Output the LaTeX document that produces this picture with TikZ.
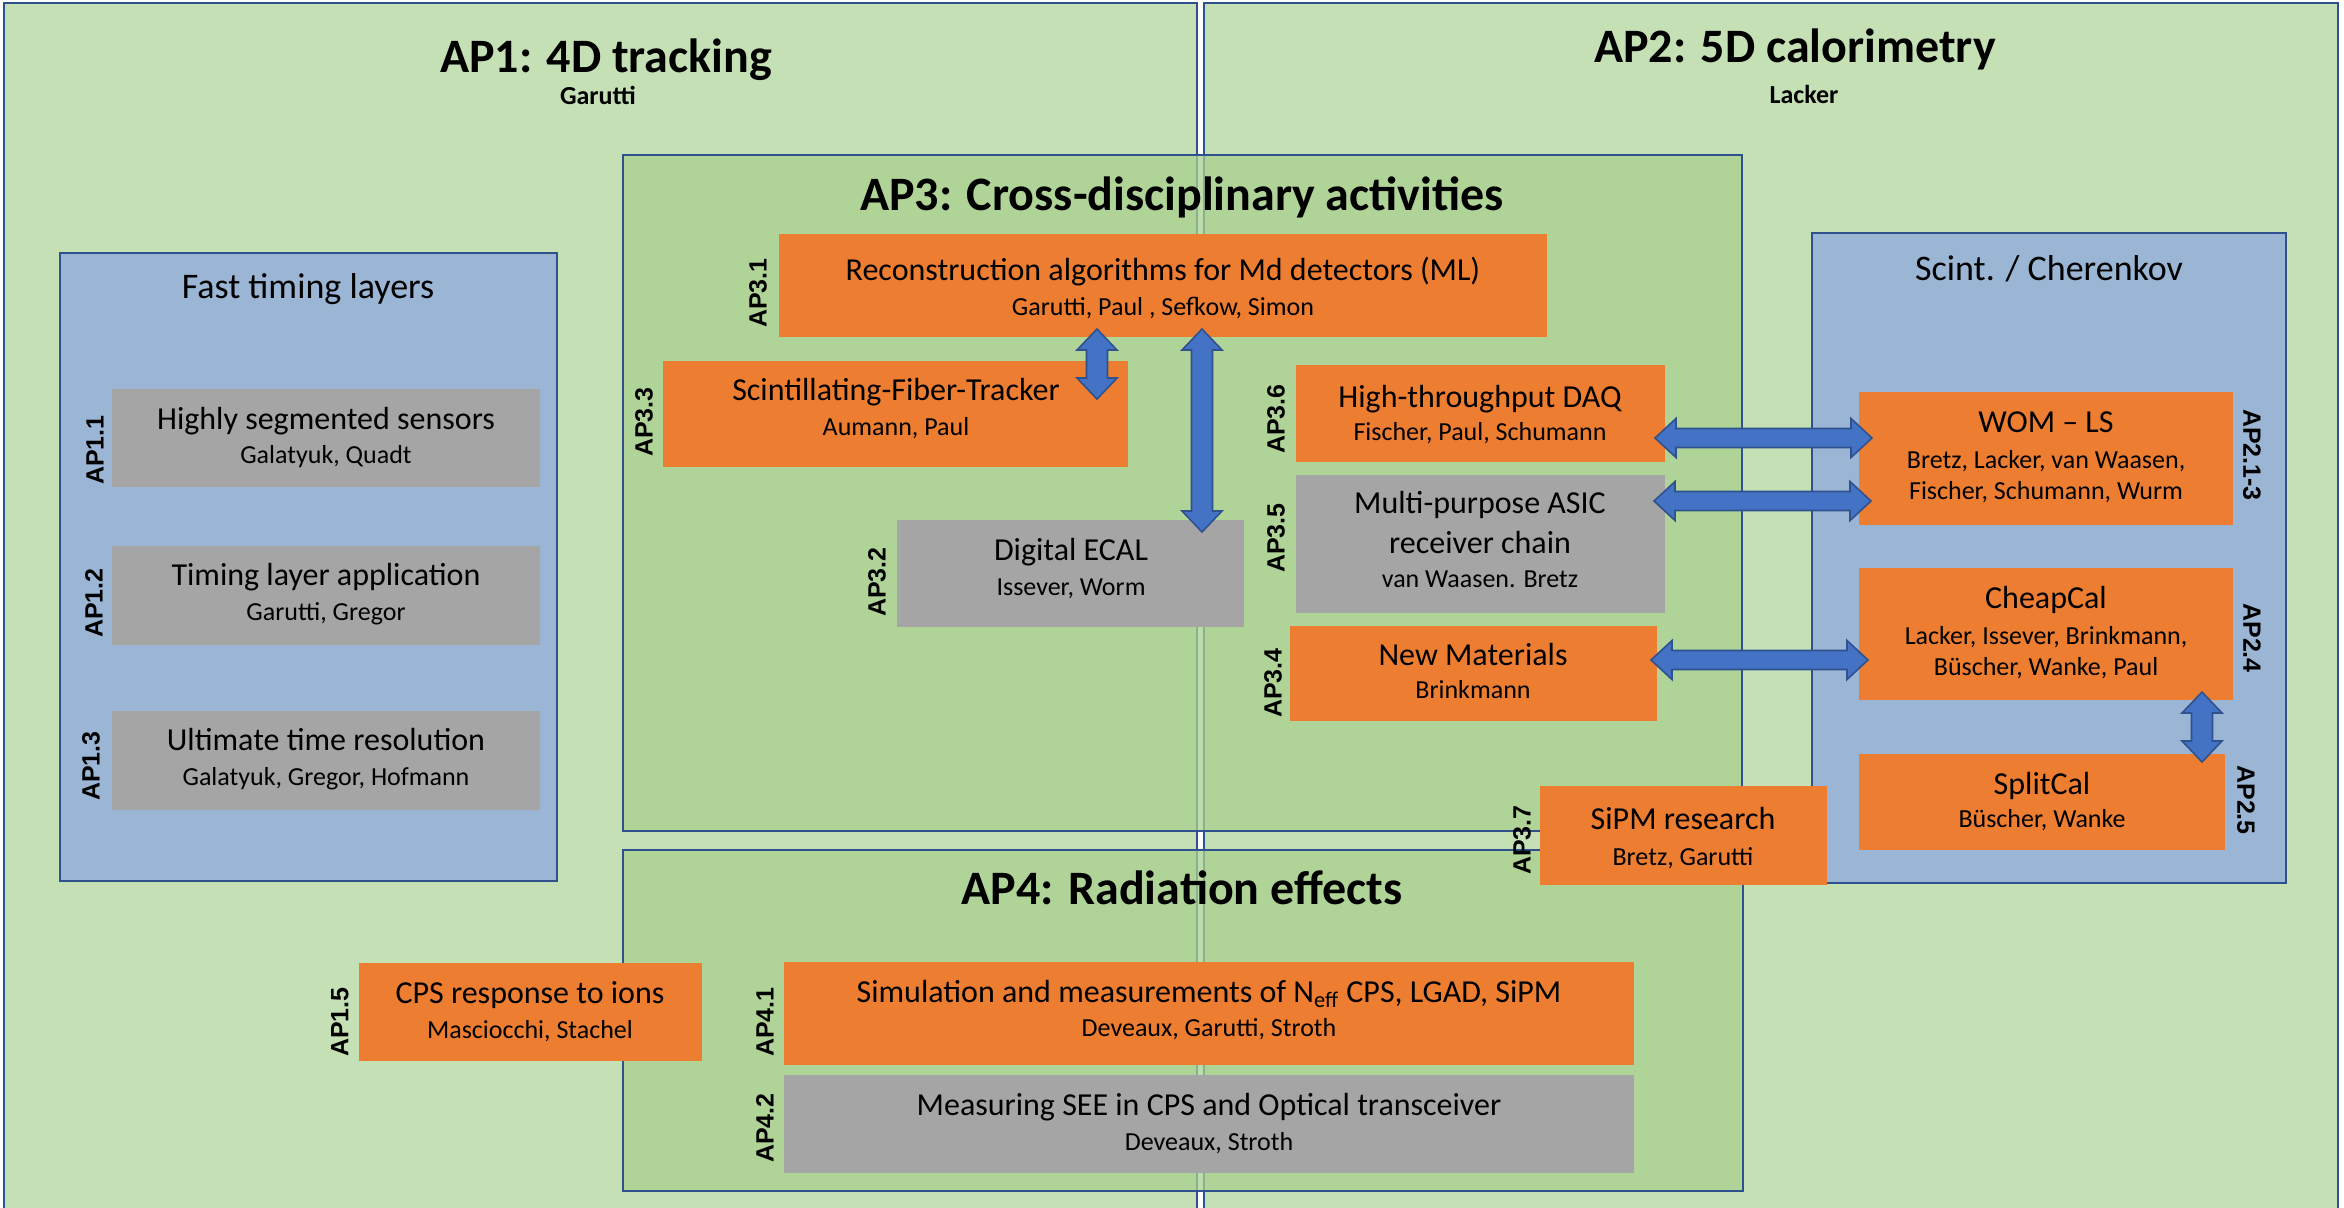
\documentclass[tikz,border=0pt]{standalone}
\usepackage{fontspec}
\setmainfont{Carlito}
\newfontfamily\lblfont{Liberation Sans}
\usetikzlibrary{fit,calc}
\definecolor{bgreen}{HTML}{C5E0B4}
\definecolor{mgreen}{HTML}{A9D18E}
\definecolor{olblue}{HTML}{2F528F}
\definecolor{lblue}{HTML}{9BB6D5}
\definecolor{orng}{HTML}{ED7D31}
\definecolor{gry}{HTML}{A5A5A5}
\definecolor{arfill}{HTML}{4472C4}
\newcommand\harrow[2]{%
  \path[blockarrow] let \p1=(#1), \p2=(#2) in
  (\x1,\y1) -- (\x1+10.5pt,\y1+9.75pt) -- (\x1+10.5pt,\y1+4.75pt) -- (\x2-10.5pt,\y1+4.75pt)
  -- (\x2-10.5pt,\y1+9.75pt) -- (\x2,\y1) -- (\x2-10.5pt,\y1-9.75pt) -- (\x2-10.5pt,\y1-4.75pt)
  -- (\x1+10.5pt,\y1-4.75pt) -- (\x1+10.5pt,\y1-9.75pt) -- cycle;}
\newcommand\varrow[2]{%
  \path[blockarrow] let \p1=(#1), \p2=(#2) in
  (\x1,\y1) -- (\x1+10pt,\y1-10.5pt) -- (\x1+5.25pt,\y1-10.5pt) -- (\x1+5.25pt,\y2+10.5pt)
  -- (\x1+10pt,\y2+10.5pt) -- (\x1,\y2) -- (\x1-10pt,\y2+10.5pt) -- (\x1-5.25pt,\y2+10.5pt)
  -- (\x1-5.25pt,\y1-10.5pt) -- (\x1-10pt,\y1-10.5pt) -- cycle;}
\begin{document}
\begin{tikzpicture}[x=0.5pt,y=-0.5pt,
  outer/.style={draw=olblue, line width=1.25pt, fill=bgreen, inner sep=0pt, outer sep=0pt},
  inner/.style={draw=olblue, line width=1.25pt, fill=mgreen, fill opacity=0.75, inner sep=0pt, outer sep=0pt},
  group/.style={draw=olblue, line width=1.25pt, fill=lblue, inner sep=0pt, outer sep=0pt},
  obox/.style={fill=orng, inner sep=0pt, outer sep=0pt},
  gbox/.style={fill=gry, inner sep=0pt, outer sep=0pt},
  blockarrow/.style={fill=arfill, draw=olblue, line width=0.8pt, line join=miter},
  ttl/.style={anchor=base, inner sep=0pt, font=\fontsize{16pt}{19pt}\selectfont},
  nms/.style={anchor=base, inner sep=0pt, font=\fontsize{13pt}{16pt}\selectfont},
  hdr/.style={anchor=base, inner sep=0pt, font=\bfseries\fontsize{24pt}{29pt}\selectfont},
  subhdr/.style={anchor=base, inner sep=0pt, font=\bfseries\fontsize{13pt}{16pt}\selectfont},
  grp/.style={anchor=base, inner sep=0pt, font=\fontsize{18pt}{22pt}\selectfont},
  lbl/.style={inner sep=0pt, font=\lblfont\bfseries\fontsize{12.5pt}{15pt}\selectfont}]
\useasboundingbox (0,0) rectangle (2344,1207);
\clip (0,0) rectangle (2344,1207);
\fill[white] (0,0) rectangle (2344,1207);

% outer work packages
\node[outer, fit={(4,3) (1197,1240)}] (ap1) {};
\node[outer, fit={(1204,3) (2338,1240)}] (ap2) {};
\node[hdr] (ap1t) at (606,72) {AP1: 4D tracking};
\node[subhdr] (ap1n) at (598,104) {Garutti};
\node[hdr] (ap2t) at (1795,62) {AP2: 5D calorimetry};
\node[subhdr] (ap2n) at (1804,103) {Lacker};

% cross-disciplinary and radiation
\node[inner, fit={(623,155) (1742,831)}] (ap3) {};
\node[inner, fit={(623,850) (1743,1191)}] (ap4) {};
\node[hdr] (ap3t) at (1182,210) {AP3: Cross-disciplinary activities};
\node[hdr] (ap4t) at (1182,904) {AP4: Radiation effects};

% group boxes
\node[group, fit={(60,253) (557,881)}] (ftl) {};
\node[grp] (ftlt) at (308,298) {Fast timing layers};
\node[group, fit={(1812,233) (2286,883)}] (sck) {};
\node[grp] (sckt) at (2049,280) {Scint. / Cherenkov};

% AP1 boxes
\node[gbox, fit={(112,389) (540,487)}] (ap11) {};
\node[ttl] (ap11t) at (326,429) {Highly segmented sensors};
\node[nms] (ap11n) at (326,463) {Galatyuk, Quadt};
\node[lbl, rotate=90] (ap11l) at (95,450) {AP1.1};
\node[gbox, fit={(112,546) (540,645)}] (ap12) {};
\node[ttl] (ap12t) at (326,585) {Timing layer application};
\node[nms] (ap12n) at (326,620) {Garutti, Gregor};
\node[lbl, rotate=90] (ap12l) at (94,603) {AP1.2};
\node[gbox, fit={(112,711) (540,810)}] (ap13) {};
\node[ttl] (ap13t) at (326,750) {Ultimate time resolution};
\node[nms] (ap13n) at (326,785) {Galatyuk, Gregor, Hofmann};
\node[lbl, rotate=90] (ap13l) at (91,766) {AP1.3};
\node[obox, fit={(359,963) (702,1061)}] (ap15) {};
\node[ttl] (ap15t) at (530,1003) {CPS response to ions};
\node[nms] (ap15n) at (530,1038) {Masciocchi, Stachel};
\node[lbl, rotate=90] (ap15l) at (340,1022) {AP1.5};

% AP3 boxes
\node[obox, fit={(779,234) (1547,337)}] (ap31) {};
\node[ttl] (ap31t) at (1163,280) {Reconstruction algorithms for Md detectors (ML)};
\node[nms] (ap31n) at (1163,315) {Garutti, Paul , Sefkow, Simon};
\node[lbl, rotate=90] (ap31l) at (758,293) {AP3.1};
\node[obox, fit={(663,361) (1128,467)}] (ap33) {};
\node[ttl] (ap33t) at (896,400) {Scintillating-Fiber-Tracker};
\node[nms] (ap33n) at (896,435) {Aumann, Paul};
\node[lbl, rotate=90] (ap33l) at (644,422) {AP3.3};
\node[gbox, fit={(897,520) (1244,627)}] (ap32) {};
\node[ttl] (ap32t) at (1071,560) {Digital ECAL};
\node[nms] (ap32n) at (1071,595) {Issever, Worm};
\node[lbl, rotate=90] (ap32l) at (877,582) {AP3.2};
\node[obox, fit={(1296,365) (1665,462)}] (ap36) {};
\node[ttl] (ap36t) at (1480,407) {High-throughput DAQ};
\node[nms] (ap36n) at (1480,440) {Fischer, Paul, Schumann};
\node[lbl, rotate=90] (ap36l) at (1276,419) {AP3.6};
\node[gbox, fit={(1296,475) (1665,613)}] (ap35) {};
\node[ttl] (ap35t) at (1480,513) {Multi-purpose ASIC};
\node[ttl] (ap35u) at (1480,553) {receiver chain};
\node[nms] (ap35n) at (1480,587) {van Waasen. Bretz};
\node[lbl, rotate=90] (ap35l) at (1276,538) {AP3.5};
\node[obox, fit={(1290,626) (1657,721)}] (ap34) {};
\node[ttl] (ap34t) at (1473,665) {New Materials};
\node[nms] (ap34n) at (1473,698) {Brinkmann};
\node[lbl, rotate=90] (ap34l) at (1273,683) {AP3.4};
\node[obox, fit={(1540,786) (1827,885)}] (ap37) {};
\node[ttl] (ap37t) at (1683,829) {SiPM research};
\node[nms] (ap37n) at (1683,865) {Bretz, Garutti};
\node[lbl, rotate=90] (ap37l) at (1522,840) {AP3.7};

% AP2 boxes
\node[obox, fit={(1859,392) (2233,525)}] (wom) {};
\node[ttl] (womt) at (2046,432) {WOM – LS};
\node[nms] (womn) at (2046,468) {Bretz, Lacker, van Waasen,};
\node[nms] (womm) at (2046,499) {Fischer, Schumann, Wurm};
\node[lbl, rotate=-90] (woml) at (2252,455) {AP2.1-3};
\node[obox, fit={(1859,568) (2233,700)}] (cheap) {};
\node[ttl] (cheapt) at (2046,608) {CheapCal};
\node[nms] (cheapn) at (2046,644) {Lacker, Issever, Brinkmann,};
\node[nms] (cheapm) at (2046,675) {Büscher, Wanke, Paul};
\node[lbl, rotate=-90] (cheapl) at (2252,638) {AP2.4};
\node[obox, fit={(1859,754) (2225,850)}] (split) {};
\node[ttl] (splitt) at (2042,794) {SplitCal};
\node[nms] (splitn) at (2042,827) {Büscher, Wanke};
\node[lbl, rotate=-90] (splitl) at (2246,800) {AP2.5};

% AP4 boxes
\node[obox, fit={(784,962) (1634,1065)}] (ap41) {};
\node[ttl] (ap41t) at (1209,1002) {Simulation and measurements of N\textsubscript{eff} CPS, LGAD, SiPM};
\node[nms] (ap41n) at (1209,1036) {Deveaux, Garutti, Stroth};
\node[lbl, rotate=90] (ap41l) at (765,1022) {AP4.1};
\node[gbox, fit={(784,1075) (1634,1173)}] (ap42) {};
\node[ttl] (ap42t) at (1209,1115) {Measuring SEE in CPS and Optical transceiver};
\node[nms] (ap42n) at (1209,1150) {Deveaux, Stroth};
\node[lbl, rotate=90] (ap42l) at (765,1128) {AP4.2};

% connectors (block double arrows)
\coordinate (a1s) at (1097,329); \coordinate (a1e) at (1097,399);
\coordinate (a2s) at (1202,329); \coordinate (a2e) at (1202,532);
\coordinate (a3s) at (2202,692); \coordinate (a3e) at (2202,762);
\coordinate (h1s) at (1655,438); \coordinate (h1e) at (1872,438);
\coordinate (h2s) at (1654,501); \coordinate (h2e) at (1871,501);
\coordinate (h3s) at (1651,660); \coordinate (h3e) at (1868,660);
\varrow{a1s}{a1e}
\varrow{a2s}{a2e}
\varrow{a3s}{a3e}
\harrow{h1s}{h1e}
\harrow{h2s}{h2e}
\harrow{h3s}{h3e}
\end{tikzpicture}
\end{document}
